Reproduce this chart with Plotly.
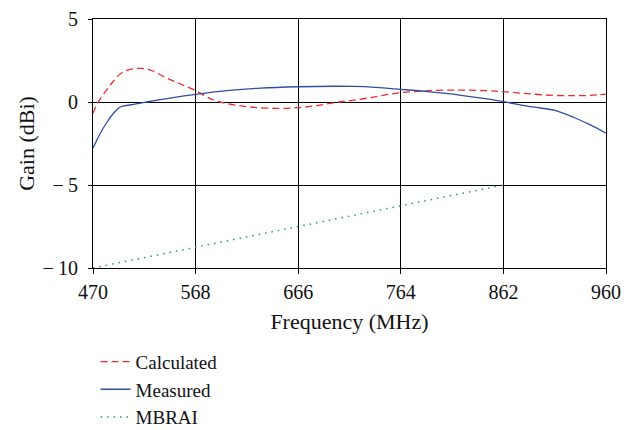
import plotly.graph_objects as go

# Calculated gain (dBi)
calc_freq = [470, 475, 483, 489, 499, 513, 525, 540, 553, 568, 585, 600, 620, 645, 666,
             685, 705, 725, 745, 764, 790, 820, 845, 862, 885, 910, 930, 945, 960]
calc_gain = [-0.68, 0.0, 0.72, 1.22, 1.82, 2.02, 1.92, 1.45, 1.1, 0.68, 0.12, -0.12, -0.3,
             -0.38, -0.34, -0.2, 0.0, 0.16, 0.38, 0.56, 0.68, 0.72, 0.68, 0.62, 0.5, 0.4,
             0.38, 0.4, 0.48]

# Measured gain (dBi)
meas_freq = [470, 477, 483, 490, 496, 505, 521, 545, 568, 600, 630, 666, 700, 720, 740,
             764, 790, 820, 845, 862, 890, 912, 930, 945, 960]
meas_gain = [-2.78, -1.88, -1.25, -0.65, -0.3, -0.18, 0.0, 0.25, 0.46, 0.7, 0.84, 0.92,
             0.95, 0.94, 0.88, 0.76, 0.62, 0.42, 0.2, 0.02, -0.3, -0.52, -0.95, -1.38, -1.88]

# MBRAI limit
mbrai_freq = [470, 862]
mbrai_gain = [-10, -5]

x_ticks = [470, 568, 666, 764, 862, 960]
y_ticks = [-10, -5, 0, 5]
y_tick_text = ["\u2212\u200910", "\u2212\u20095", "0", "5"]

FONT = "Liberation Serif, DejaVu Serif, serif"

fig = go.Figure()
fig.add_trace(go.Scatter(x=calc_freq, y=calc_gain, mode="lines", name="Calculated",
                         legendgroup="a",
                         line=dict(color="#ee2a2f", width=1.3, dash="7px,4px", shape="spline")))
fig.add_trace(go.Scatter(x=meas_freq, y=meas_gain, mode="lines", name="Measured",
                         legendgroup="b",
                         line=dict(color="#2f4fa0", width=1.3, shape="spline")))
fig.add_trace(go.Scatter(x=mbrai_freq, y=mbrai_gain, mode="lines", name="MBRAI",
                         legendgroup="c",
                         line=dict(color="#2a9a60", width=1.5, dash="1.5px,5px")))

fig.update_layout(
    width=622, height=422,
    margin=dict(l=85, r=24, t=11, b=162, autoexpand=False),
    paper_bgcolor="white", plot_bgcolor="white",
    font=dict(family=FONT, size=18, color="#111"),
    showlegend=True,
    legend=dict(x=0.005, xanchor="left", y=-0.30, yanchor="top",
                bgcolor="rgba(0,0,0,0)", font=dict(size=19),
                tracegroupgap=0, itemwidth=30),
    xaxis=dict(range=[470, 960], tickvals=x_ticks, ticktext=[str(v) for v in x_ticks],
               showgrid=True, gridcolor="black", gridwidth=1,
               showline=True, linecolor="black", linewidth=1.2, mirror=True,
               ticks="outside", ticklen=5, tickcolor="black", ticklabelstandoff=1,
               zeroline=False, tickfont=dict(size=20),
               title=dict(text="Frequency (MHz)", standoff=11)),
    yaxis=dict(range=[-10, 5], tickvals=y_ticks, ticktext=y_tick_text,
               showgrid=True, gridcolor="black", gridwidth=1,
               showline=True, linecolor="black", linewidth=1.2, mirror=True,
               ticks="outside", ticklen=4, tickcolor="black", ticklabelstandoff=6,
               zeroline=False, tickfont=dict(size=20),
               title=dict(text="Gain (dBi)", standoff=1)),
)

fig.write_html("out.html")
